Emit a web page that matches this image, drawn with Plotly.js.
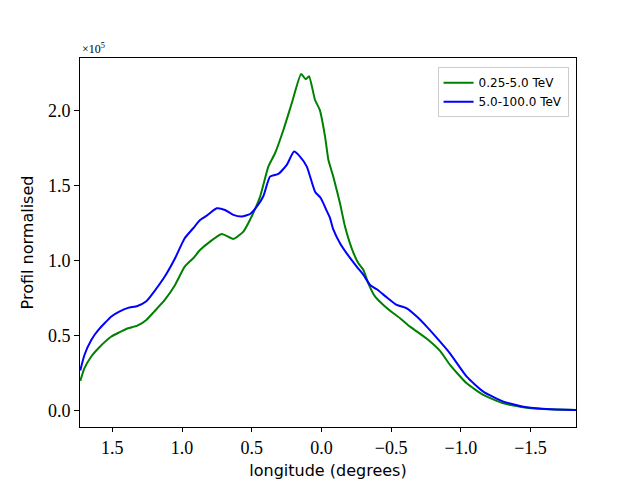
<!DOCTYPE html>
<html>
<head>
<meta charset="utf-8">
<script src="https://cdn.plot.ly/plotly-3.0.1.min.js"></script>
<style>
  body { margin: 0; background: #fff; }
  #plot { width: 640px; height: 480px; }
</style>
</head>
<body>
<div id="plot"></div>
<script>
// profile values are in units of 1e5 (matches the x10^5 offset label)
const lonLow = [1.73, 1.70, 1.651, 1.60, 1.507, 1.45, 1.387, 1.32, 1.256, 1.20, 1.124, 1.05, 0.981, 0.92,
    0.871, 0.799, 0.715, 0.632, 0.56, 0.50, 0.44, 0.381, 0.333, 0.273, 0.213, 0.146, 0.113, 0.089,
    0.046, 0.012, -0.026, -0.05, -0.085, -0.133, -0.169, -0.217, -0.265, -0.301, -0.336, -0.385,
    -0.444, -0.516, -0.564, -0.636, -0.767, -0.851, -0.922, -1.042, -1.161, -1.305, -1.473, -1.64, -1.826];
const profLow = [0.20, 0.285, 0.363, 0.418, 0.496, 0.524, 0.551, 0.569, 0.607, 0.662, 0.740, 0.84, 0.962, 1.018,
    1.073, 1.129, 1.18, 1.147, 1.196, 1.298, 1.429, 1.629, 1.718, 1.873, 2.051, 2.247, 2.211, 2.231,
    2.073, 2.007, 1.829, 1.673, 1.562, 1.384, 1.229, 1.084, 0.984, 0.94, 0.851, 0.762,
    0.707, 0.651, 0.618, 0.562, 0.473, 0.40, 0.307, 0.184, 0.107, 0.051, 0.022, 0.011, 0.007];

const lonHigh = [1.73, 1.70, 1.651, 1.60, 1.507, 1.45, 1.387, 1.32, 1.256, 1.20, 1.124, 1.05, 0.981, 0.92,
    0.871, 0.823, 0.751, 0.692, 0.632, 0.572, 0.512, 0.464, 0.417, 0.369, 0.309, 0.249, 0.197, 0.154,
    0.105, 0.046, 0.005, -0.04, -0.06, -0.085, -0.133, -0.181, -0.253, -0.301, -0.349, -0.397,
    -0.468, -0.54, -0.612, -0.684, -0.755, -0.851, -0.922, -1.042, -1.161, -1.305, -1.473, -1.64, -1.826];
const profHigh = [0.27, 0.373, 0.473, 0.54, 0.63, 0.662, 0.687, 0.70, 0.731, 0.796, 0.896, 1.018, 1.151, 1.218,
    1.273, 1.302, 1.351, 1.34, 1.307, 1.296, 1.313, 1.362, 1.431, 1.562, 1.58, 1.64, 1.729, 1.696,
    1.629, 1.462, 1.42, 1.33, 1.29, 1.21, 1.118, 1.051, 0.962, 0.907, 0.84, 0.811,
    0.758, 0.707, 0.684, 0.629, 0.562, 0.462, 0.384, 0.229, 0.129, 0.062, 0.024, 0.011, 0.007];

const seriesNames = ['0.25-5.0 TeV', '5.0-100.0 TeV'];

const serif = 'Liberation Serif, DejaVu Serif, serif';
const sans = 'DejaVu Sans, Liberation Sans, sans-serif';

const traces = [
    {
        x: lonLow, y: profLow, name: seriesNames[0],
        mode: 'lines', type: 'scatter',
        line: { color: '#008000', width: 2, shape: 'spline', smoothing: 0.5 }
    },
    {
        x: lonHigh, y: profHigh, name: seriesNames[1],
        mode: 'lines', type: 'scatter',
        line: { color: '#0000ff', width: 2, shape: 'spline', smoothing: 0.5 }
    }
];

const layout = {
    width: 640,
    height: 480,
    margin: { l: 80, r: 64, t: 58, b: 53 },
    paper_bgcolor: '#fff',
    plot_bgcolor: '#fff',
    showlegend: true,
    legend: {
        x: 0.985, y: 0.975, xanchor: 'right', yanchor: 'top',
        bordercolor: '#cccccc', borderwidth: 1, bgcolor: 'rgba(255,255,255,0.8)',
        font: { family: sans, size: 12, color: '#000' },
        tracegroupgap: 0
    },
    xaxis: {
        range: [1.732, -1.826],
        tickvals: [1.5, 1.0, 0.5, 0.0, -0.5, -1.0, -1.5],
        tickformat: '.1f',
        ticks: 'outside', ticklen: 4, tickcolor: '#000',
        showline: true, linecolor: '#000', linewidth: 1, mirror: true,
        showgrid: false, zeroline: false,
        tickfont: { family: serif, size: 18, color: '#000' },
        title: { text: 'longitude (degrees)', font: { family: sans, size: 16, color: '#000' }, standoff: 10 }
    },
    yaxis: {
        range: [-0.107, 2.353],
        tickvals: [0, 0.5, 1.0, 1.5, 2.0],
        tickformat: '.1f',
        ticks: 'outside', ticklen: 5, tickcolor: '#000',
        showline: true, linecolor: '#000', linewidth: 1, mirror: true,
        showgrid: false, zeroline: false,
        tickfont: { family: serif, size: 18, color: '#000' },
        title: { text: 'Profil normalised', font: { family: sans, size: 16, color: '#000' }, standoff: 10 }
    },
    annotations: [{
        text: '×10<sup>5</sup>',
        xref: 'paper', yref: 'paper', x: 0, y: 1, xanchor: 'left', yanchor: 'bottom',
        showarrow: false, font: { family: serif, size: 12, color: '#000' }
    }]
};

Plotly.newPlot('plot', traces, layout, { displayModeBar: false, staticPlot: true });
</script>
</body>
</html>
